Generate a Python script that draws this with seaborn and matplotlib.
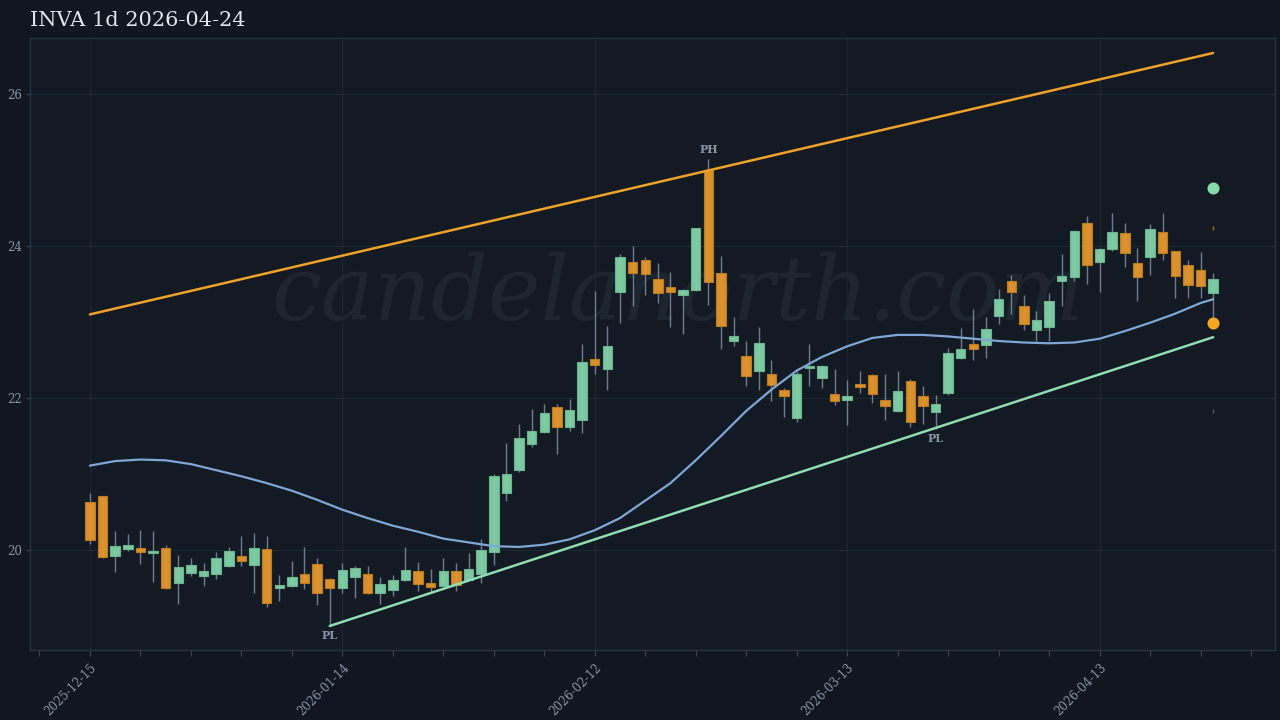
import matplotlib
matplotlib.use("Agg")
import matplotlib.pyplot as plt
import seaborn as sns
import pandas as pd
import numpy as np

# daily candles, 2025-12-15 .. 2026-04-24 (90 sessions)
holidays = ["2025-12-25", "2026-01-01", "2026-01-19", "2026-02-16", "2026-04-03"]
opens = [20.63, 20.71, 19.92, 20.01, 20.03, 19.96, 20.02, 19.56, 19.70, 19.66,
         19.68, 19.79, 19.92, 19.80, 20.01, 19.50, 19.53, 19.68, 19.82, 19.62,
         19.50, 19.64, 19.69, 19.43, 19.47, 19.61, 19.72, 19.56, 19.53, 19.72,
         19.61, 19.68, 19.98, 20.75, 21.05, 21.40, 21.55, 21.88, 21.62, 21.71,
         22.51, 22.38, 23.39, 23.79, 23.81, 23.57, 23.46, 23.36, 23.42, 25.00,
         23.64, 22.75, 22.55, 22.35, 22.32, 22.11, 21.74, 22.40, 22.26, 22.05,
         21.97, 22.19, 22.30, 21.98, 21.83, 22.22, 22.02, 21.81, 22.07, 22.52,
         22.71, 22.70, 23.08, 23.54, 23.21, 22.89, 22.94, 23.54, 23.59, 24.30,
         23.79, 23.96, 24.17, 23.77, 23.86, 24.19, 23.93, 23.75, 23.69, 23.38]
highs = [20.75, 20.71, 20.25, 20.21, 20.26, 20.25, 20.06, 19.94, 19.90, 19.83,
         19.98, 20.04, 20.19, 20.22, 20.19, 19.67, 19.86, 20.04, 19.89, 19.63,
         19.83, 19.79, 19.79, 19.64, 19.67, 20.04, 19.84, 19.75, 19.89, 19.83,
         19.96, 20.14, 21.00, 21.41, 21.66, 21.86, 21.92, 21.92, 21.99, 22.71,
         23.41, 22.95, 23.90, 24.00, 23.85, 23.77, 23.66, 23.43, 24.24, 25.14,
         23.87, 23.07, 22.75, 22.93, 22.50, 22.13, 22.36, 22.71, 22.43, 22.38,
         22.24, 22.36, 22.31, 22.32, 22.36, 22.25, 22.16, 22.04, 22.66, 22.92,
         23.17, 23.06, 23.43, 23.62, 23.36, 23.14, 23.38, 23.89, 24.21, 24.40,
         23.97, 24.44, 24.30, 23.97, 24.29, 24.44, 23.94, 23.81, 23.92, 23.64]
lows = [20.08, 19.90, 19.71, 19.99, 19.82, 19.58, 19.49, 19.29, 19.66, 19.52,
        19.62, 19.78, 19.79, 19.43, 19.25, 19.33, 19.51, 19.49, 19.27, 19.00,
        19.44, 19.37, 19.42, 19.29, 19.39, 19.59, 19.46, 19.45, 19.52, 19.46,
        19.60, 19.57, 19.80, 20.65, 21.02, 21.35, 21.54, 21.26, 21.57, 21.54,
        22.32, 22.11, 22.99, 23.21, 23.35, 23.25, 22.93, 22.84, 23.41, 23.23,
        22.64, 22.69, 22.16, 22.10, 21.96, 21.75, 21.69, 22.16, 22.13, 21.91,
        21.65, 22.06, 21.94, 21.71, 21.82, 21.62, 21.66, 21.59, 22.04, 22.51,
        22.50, 22.52, 22.97, 23.10, 22.90, 22.75, 22.75, 23.21, 23.54, 23.50,
        23.39, 23.94, 23.73, 23.27, 23.62, 23.81, 23.32, 23.32, 23.31, 22.99]
closes = [20.13, 19.91, 20.05, 20.07, 19.98, 19.99, 19.50, 19.77, 19.80, 19.72,
          19.89, 19.99, 19.86, 20.03, 19.30, 19.54, 19.64, 19.57, 19.43, 19.50,
          19.74, 19.76, 19.43, 19.55, 19.60, 19.74, 19.55, 19.51, 19.72, 19.54,
          19.75, 20.00, 20.98, 21.00, 21.48, 21.57, 21.80, 21.62, 21.84, 22.48,
          22.43, 22.69, 23.85, 23.65, 23.63, 23.38, 23.40, 23.42, 24.24, 23.53,
          22.95, 22.82, 22.29, 22.73, 22.17, 22.02, 22.31, 22.42, 22.42, 21.96,
          22.03, 22.14, 22.05, 21.89, 22.09, 21.69, 21.90, 21.92, 22.59, 22.65,
          22.65, 22.91, 23.30, 23.40, 22.98, 23.02, 23.28, 23.61, 24.20, 23.75,
          23.96, 24.18, 23.91, 23.59, 24.23, 23.91, 23.60, 23.49, 23.47, 23.56]

# smoothed average, read every 2nd session
ma_idx = [0, 2, 4, 6, 8, 10, 12, 14, 16, 18, 20, 22, 24, 26, 28, 30, 32, 34,
          36, 38, 40, 42, 44, 46, 48, 50, 52, 54, 56, 58, 60, 62, 64, 66, 68,
          70, 72, 74, 76, 78, 80, 82, 84, 86, 88, 89]
ma_vals = [21.11, 21.17, 21.19, 21.18, 21.13, 21.05, 20.97, 20.88, 20.78, 20.66,
           20.53, 20.42, 20.32, 20.24, 20.15, 20.10, 20.05, 20.04, 20.07, 20.14,
           20.26, 20.42, 20.65, 20.88, 21.18, 21.50, 21.83, 22.11, 22.36, 22.54,
           22.68, 22.79, 22.83, 22.83, 22.81, 22.78, 22.75, 22.73, 22.72, 22.73,
           22.78, 22.88, 22.99, 23.11, 23.25, 23.30]

# trend lines (endpoints) and pivots
res_x, res_y = [0, 89], [23.10, 26.54]
sup_x, sup_y = [19, 89], [19.00, 22.80]
pivots = [("PH", 49, 25.14, "up"), ("PL", 19, 19.00, "down"), ("PL", 67, 21.59, "down")]
target, stop = 24.76, 22.99

dates = pd.bdate_range("2025-12-15", "2026-04-24")
dates = dates[~dates.isin(pd.to_datetime(holidays))]

BG = "#101720"
PANEL = "#131a24"
GREEN = "#82d1a8"
ORANGE = "#e3972c"
TXT = "#8794a6"

sns.set_theme(style="dark", rc={
    "axes.facecolor": PANEL,
    "figure.facecolor": BG,
    "axes.edgecolor": "#273340",
    "grid.color": "#1c2a2f",
    "xtick.color": TXT,
    "ytick.color": TXT,
})
plt.rcParams["font.family"] = ["DejaVu Serif"]

fig = plt.figure(figsize=(12.8, 7.2), dpi=100)
ax = fig.add_axes([30 / 1280, 70 / 720, 1245 / 1280, 612 / 720])

x = np.arange(len(opens))
o, h, l, c = map(np.array, (opens, highs, lows, closes))
up = c >= o

ax.text(0.52, 0.58, "candelanorth.com", transform=ax.transAxes, fontsize=64,
        style="italic", color="#1d252f", ha="center", va="center", zorder=0)

ax.vlines(x, l, h, color="#8796a8", lw=1, alpha=0.8, zorder=2)
body = np.maximum(np.abs(c - o), 0.02)
ax.bar(x[up], body[up], bottom=np.minimum(o, c)[up], width=0.75,
       color=GREEN, edgecolor="#6bb892", lw=0.8, alpha=0.95, zorder=3)
ax.bar(x[~up], body[~up], bottom=np.minimum(o, c)[~up], width=0.75,
       color=ORANGE, edgecolor="#c07d1c", lw=0.8, alpha=0.95, zorder=3)

sns.lineplot(x=ma_idx, y=ma_vals, ax=ax, color="#7fa6d6", lw=1.6, zorder=4)
sns.lineplot(x=res_x, y=res_y, ax=ax, color="#f0a128", lw=1.8, zorder=4)
sns.lineplot(x=sup_x, y=sup_y, ax=ax, color="#8fdcb2", lw=1.8, zorder=4)

for name, i, v, side in pivots:
    off = 3 if side == "up" else -3
    ax.annotate(name, (i, v), xytext=(0, off), textcoords="offset points",
                ha="center", va="bottom" if side == "up" else "top",
                fontsize=8, fontweight="bold", color=TXT, zorder=5)

last = x[-1]
ax.scatter([last], [target], s=75, color="#86d9a9", zorder=6, linewidths=0)
ax.scatter([last], [stop], s=75, color="#f5a623", zorder=6, linewidths=0)
ax.plot([last], [24.24], marker="|", ms=3, color="#a06a20", zorder=5)
ax.plot([last], [21.83], marker="|", ms=3, color="#4a5868", zorder=5)

ax.set_xlim(-4.75, 93.9)
ax.set_ylim(18.684, 26.737)
major = [0, 20, 40, 60, 80]
ax.set_xticks(major)
ax.set_xticklabels([dates[i].strftime("%Y-%m-%d") for i in major],
                   rotation=45, ha="right", rotation_mode="anchor", fontsize=8.5)
ax.set_xticks(np.arange(-4, 94, 4), minor=True)
ax.set_yticks([20, 22, 24, 26])
ax.set_yticklabels(["20", "22", "24", "26"], fontsize=8.5)
ax.tick_params(axis="x", which="both", bottom=True, length=4, width=0.8,
               color="#3a4656", pad=4)
ax.tick_params(axis="y", left=True, length=3, width=0.8, color="#3a4656", pad=3)
ax.grid(True, which="major", lw=0.8)
ax.set_xlabel("")
ax.set_ylabel("")
for s in ax.spines.values():
    s.set_color("#273340")
    s.set_linewidth(1)

fig.text(30 / 1280, 1 - 21 / 720, "INVA 1d 2026-04-24", fontsize=15,
         color="#dfe5ec", va="center", ha="left")

fig.savefig("out.png", dpi=100, facecolor=BG)
